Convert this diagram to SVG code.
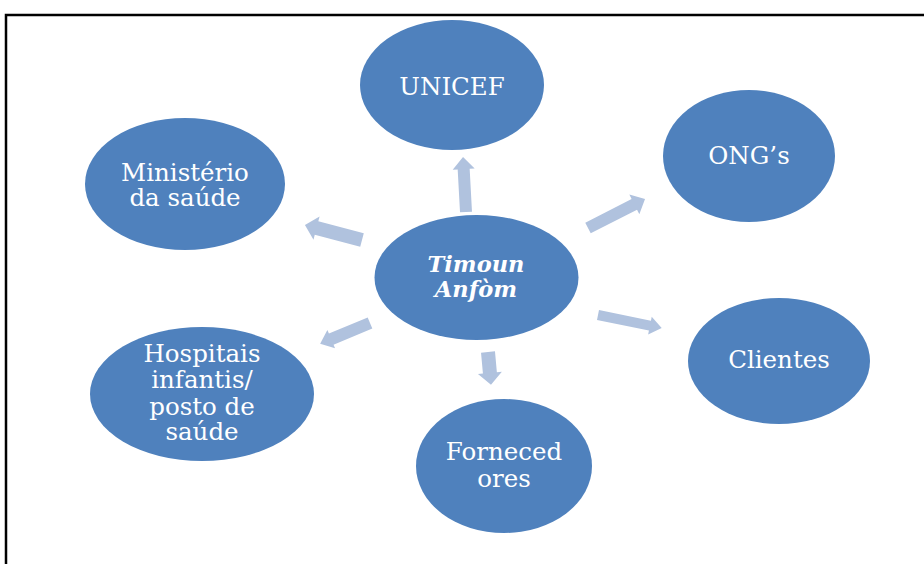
<svg xmlns="http://www.w3.org/2000/svg" width="924" height="564" viewBox="0 0 924 564">
<style>
.n{fill:#4f81bd}
.t{fill:#fff;font-family:"DejaVu Serif","Liberation Serif",serif;font-size:24.5px;text-anchor:middle}
.c{font-style:italic;font-weight:bold;font-size:22.5px}
.a{fill:#b0c2de}
</style>
<rect width="924" height="564" fill="#fff"/>
<path d="M6,580 L6,15 L930,15" fill="none" stroke="#000" stroke-width="2.5"/>
<g id="connectors">
<polygon class="a" transform="translate(466,212) rotate(-93.1)" points="0,-6 43,-6 43,-11 55,0 43,11 43,6 0,6"/>
<polygon class="a" transform="translate(588,228) rotate(-27)" points="0,-6 52,-6 52,-11 64,0 52,11 52,6 0,6"/>
<polygon class="a" transform="translate(598,315) rotate(11.5)" points="0,-5 53,-5 53,-9 65,0 53,9 53,5 0,5"/>
<polygon class="a" transform="translate(488,352) rotate(84.8)" points="0,-7 21,-7 21,-12 33,0 21,12 21,7 0,7"/>
<polygon class="a" transform="translate(362,240) rotate(-165.3)" points="0,-7 47,-7 47,-12 59,0 47,12 47,7 0,7"/>
<polygon class="a" transform="translate(370,323) rotate(157.4)" points="0,-6 42,-6 42,-10 54,0 42,10 42,6 0,6"/>
</g>
<g id="unicef"><ellipse class="n" cx="452" cy="85" rx="92" ry="65"/><text class="t" x="452" y="95">UNICEF</text></g>
<g id="ministerio"><ellipse class="n" cx="185" cy="184" rx="100" ry="66"/><text class="t" x="185" y="181">Ministério</text><text class="t" x="185" y="206">da saúde</text></g>
<g id="ongs"><ellipse class="n" cx="749" cy="156" rx="86" ry="66"/><text class="t" x="749" y="164">ONG’s</text></g>
<g id="timoun"><ellipse class="n" cx="476.5" cy="277.5" rx="102" ry="62.5"/><text class="t c" x="476" y="272">Timoun</text><text class="t c" x="476" y="297">Anfòm</text></g>
<g id="clientes"><ellipse class="n" cx="779" cy="361" rx="91" ry="63"/><text class="t" x="779" y="368">Clientes</text></g>
<g id="hospitais"><ellipse class="n" cx="202" cy="394" rx="112" ry="67"/><text class="t" x="202" y="362">Hospitais</text><text class="t" x="202" y="388">infantis/</text><text class="t" x="202" y="415">posto de</text><text class="t" x="202" y="440">saúde</text></g>
<g id="fornecedores"><ellipse class="n" cx="504" cy="466" rx="88" ry="67"/><text class="t" x="504" y="460">Forneced</text><text class="t" x="504" y="487">ores</text></g>
</svg>
